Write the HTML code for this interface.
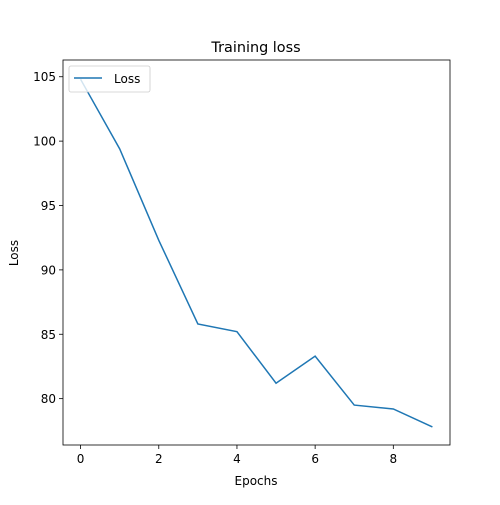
<!DOCTYPE html>
<html><head><meta charset="utf-8"><style>
body{margin:0;background:#fff;font-family:"Liberation Sans","DejaVu Sans",sans-serif;}
svg text{font-family:"DejaVu Sans","Liberation Sans",sans-serif;}
</style></head><body>
<svg id="chart" width="500" height="500" xmlns="http://www.w3.org/2000/svg">
<rect width="500" height="500" fill="#fff"/>
<text x="256" y="52" font-size="14.4" text-anchor="middle">Training loss</text>
<g id="axes"></g>
<text x="256" y="485" font-size="12" text-anchor="middle">Epochs</text>
<text x="18" y="253" font-size="12" text-anchor="middle" transform="rotate(-90 18 253)">Loss</text>
</svg>
<script>
const epochs=[0,1,2,3,4,5,6,7,8,9];
const loss=[104.8,99.4,92.3,85.8,85.2,81.2,83.3,79.5,79.2,77.8];
const xTicks=[0,2,4,6,8];
const yTicks=[80,85,90,95,100,105];
const L=63,R=450,T=60,B=445;
const xMin=-0.45,xMax=9.45,yMin=76.4,yMax=106.3;
const sx=v=>L+(v-xMin)/(xMax-xMin)*(R-L);
const sy=v=>B-(v-yMin)/(yMax-yMin)*(B-T);
const NS="http://www.w3.org/2000/svg";
const g=document.getElementById('axes');
function mk(t,a){const e=document.createElementNS(NS,t);for(const k in a)e.setAttribute(k,a[k]);g.appendChild(e);return e;}
xTicks.forEach(v=>{
 const l=mk('line',{x1:sx(v),x2:sx(v),y1:B,y2:B+4,stroke:'#000','stroke-width':0.8});
 
 
 const t=mk('text',{x:sx(v),y:B+18,'font-size':12,'text-anchor':'middle'});t.textContent=v;
 
 
});
yTicks.forEach(v=>{
 const l=mk('line',{x1:L-4,x2:L,y1:sy(v),y2:sy(v),stroke:'#000','stroke-width':0.8});
 
 
 const t=mk('text',{x:L-7,y:sy(v)+4.5,'font-size':12,'text-anchor':'end'});t.textContent=v;
 
 
});
const p=mk('polyline',{points:epochs.map((e,i)=>sx(e)+','+sy(loss[i])).join(' '),fill:'none',stroke:'#1f77b4','stroke-width':1.5});


const f=mk('rect',{x:L,y:T,width:R-L,height:B-T,fill:'none',stroke:'#000','stroke-width':0.8});


const lg=mk('rect',{x:69,y:66,width:81,height:26,rx:2,fill:'#fff','fill-opacity':0.8,stroke:'#ccc','stroke-width':0.8});


const ll=mk('line',{x1:74,x2:102,y1:78,y2:78,stroke:'#1f77b4','stroke-width':1.5});


const lt=mk('text',{x:114,y:83,'font-size':12});lt.textContent='Loss';


</script>
</body></html>
